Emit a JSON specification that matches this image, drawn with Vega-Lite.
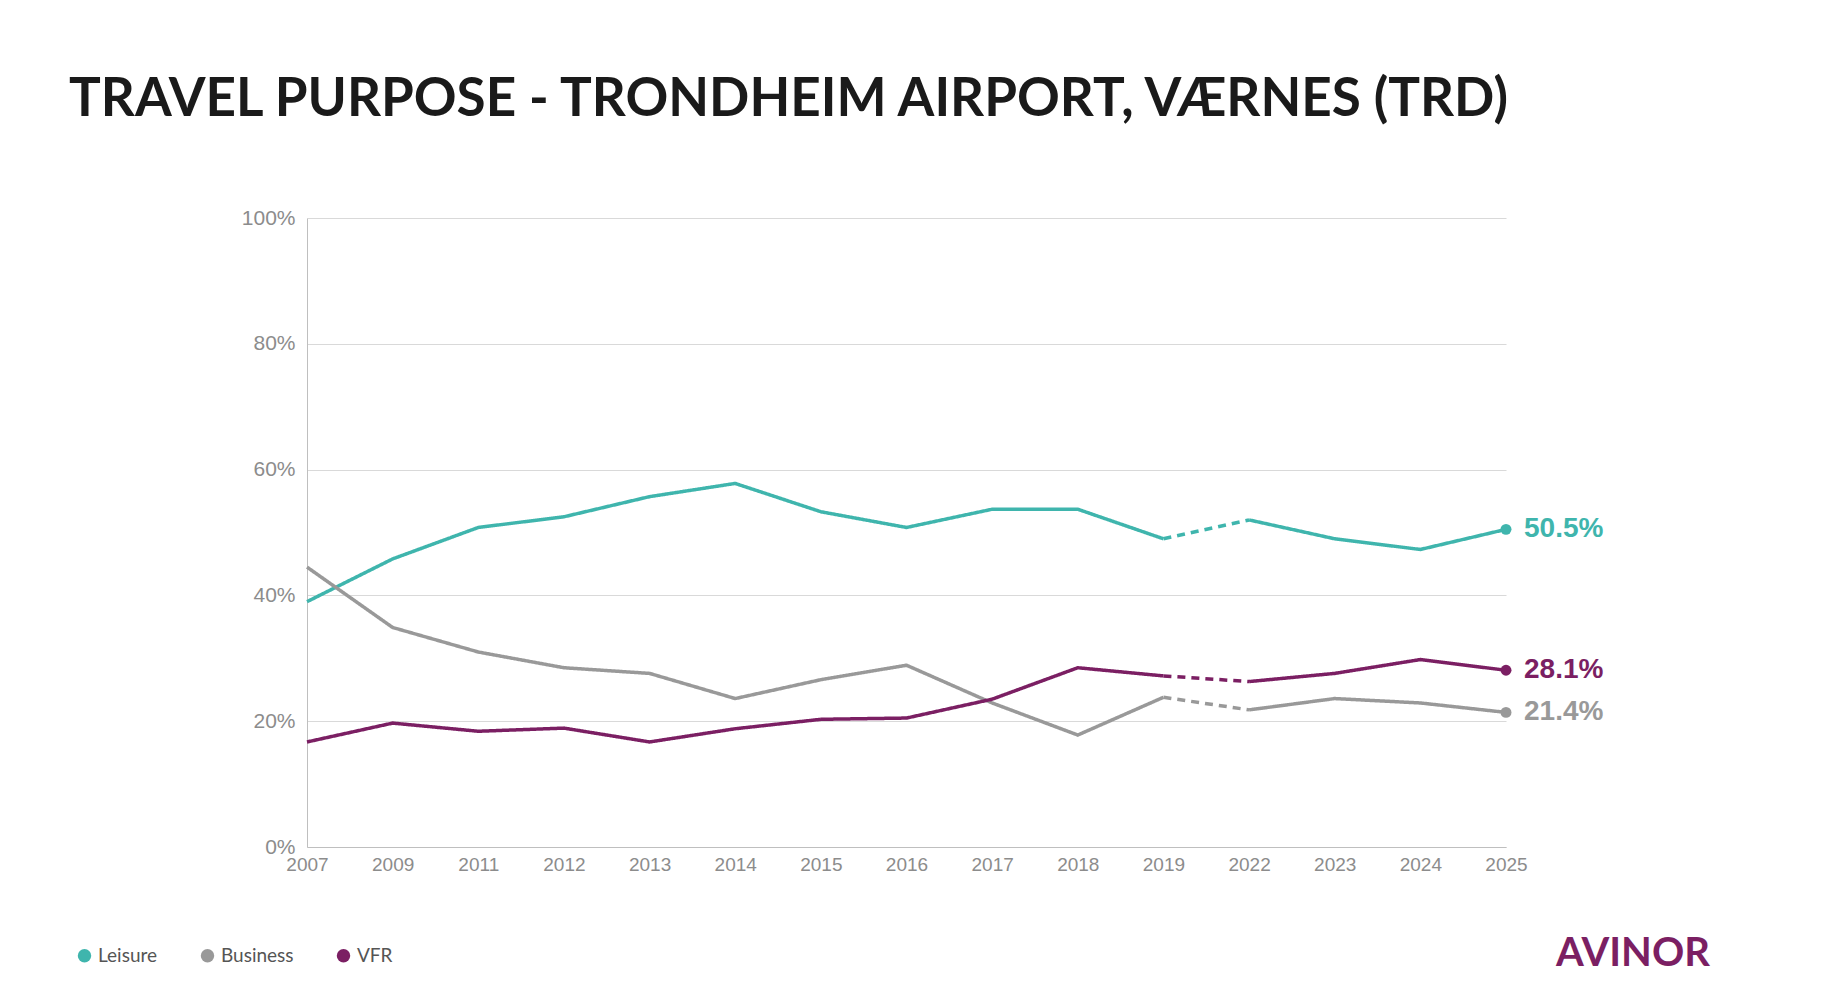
{
"$schema":"https://vega.github.io/schema/vega-lite/v6.json",
"width":1199,"height":629,
"autosize":{"type":"none"},
"padding":{"left":307,"right":334,"top":218,"bottom":161},
"background":"white",
"config":{"view":{"stroke":null},"font":"Liberation Sans"},
"title":{"text":"TRAVEL PURPOSE -  TRONDHEIM AIRPORT, VÆRNES (TRD)","anchor":"start","dx":-6,"offset":80,"font":"Lato","fontWeight":"bold","fontSize":53,"color":"#1a1a1a"},
"data":{"values":[
{"year":"2007","p":"Leisure","v":39.0,"seg":"a"},{"year":"2009","p":"Leisure","v":45.8,"seg":"a"},{"year":"2011","p":"Leisure","v":50.8,"seg":"a"},{"year":"2012","p":"Leisure","v":52.5,"seg":"a"},{"year":"2013","p":"Leisure","v":55.7,"seg":"a"},{"year":"2014","p":"Leisure","v":57.8,"seg":"a"},{"year":"2015","p":"Leisure","v":53.3,"seg":"a"},{"year":"2016","p":"Leisure","v":50.8,"seg":"a"},{"year":"2017","p":"Leisure","v":53.7,"seg":"a"},{"year":"2018","p":"Leisure","v":53.7,"seg":"a"},{"year":"2019","p":"Leisure","v":49.0,"seg":"a"},
{"year":"2019","p":"Leisure","v":49.0,"seg":"b"},{"year":"2022","p":"Leisure","v":52.0,"seg":"b"},
{"year":"2022","p":"Leisure","v":52.0,"seg":"c"},{"year":"2023","p":"Leisure","v":49.0,"seg":"c"},{"year":"2024","p":"Leisure","v":47.3,"seg":"c"},{"year":"2025","p":"Leisure","v":50.5,"seg":"c","end":"50.5%"},
{"year":"2007","p":"Business","v":44.5,"seg":"a"},{"year":"2009","p":"Business","v":34.9,"seg":"a"},{"year":"2011","p":"Business","v":31.0,"seg":"a"},{"year":"2012","p":"Business","v":28.5,"seg":"a"},{"year":"2013","p":"Business","v":27.6,"seg":"a"},{"year":"2014","p":"Business","v":23.6,"seg":"a"},{"year":"2015","p":"Business","v":26.6,"seg":"a"},{"year":"2016","p":"Business","v":28.9,"seg":"a"},{"year":"2017","p":"Business","v":22.9,"seg":"a"},{"year":"2018","p":"Business","v":17.8,"seg":"a"},{"year":"2019","p":"Business","v":23.8,"seg":"a"},
{"year":"2019","p":"Business","v":23.8,"seg":"b"},{"year":"2022","p":"Business","v":21.8,"seg":"b"},
{"year":"2022","p":"Business","v":21.8,"seg":"c"},{"year":"2023","p":"Business","v":23.6,"seg":"c"},{"year":"2024","p":"Business","v":22.9,"seg":"c"},{"year":"2025","p":"Business","v":21.4,"seg":"c","end":"21.4%"},
{"year":"2007","p":"VFR","v":16.7,"seg":"a"},{"year":"2009","p":"VFR","v":19.7,"seg":"a"},{"year":"2011","p":"VFR","v":18.4,"seg":"a"},{"year":"2012","p":"VFR","v":18.9,"seg":"a"},{"year":"2013","p":"VFR","v":16.7,"seg":"a"},{"year":"2014","p":"VFR","v":18.8,"seg":"a"},{"year":"2015","p":"VFR","v":20.3,"seg":"a"},{"year":"2016","p":"VFR","v":20.5,"seg":"a"},{"year":"2017","p":"VFR","v":23.5,"seg":"a"},{"year":"2018","p":"VFR","v":28.5,"seg":"a"},{"year":"2019","p":"VFR","v":27.2,"seg":"a"},
{"year":"2019","p":"VFR","v":27.2,"seg":"b"},{"year":"2022","p":"VFR","v":26.3,"seg":"b"},
{"year":"2022","p":"VFR","v":26.3,"seg":"c"},{"year":"2023","p":"VFR","v":27.6,"seg":"c"},{"year":"2024","p":"VFR","v":29.8,"seg":"c"},{"year":"2025","p":"VFR","v":28.1,"seg":"c","end":"28.1%"}
]},
"encoding":{
"x":{"field":"year","type":"ordinal","scale":{"type":"point","padding":0},"axis":{"title":null,"labelAngle":0,"labelColor":"#8c8c8c","labelFontSize":19,"labelPadding":8,"domainColor":"#bfbfbf","ticks":false}},
"y":{"field":"v","type":"quantitative","scale":{"domain":[0,100]},"axis":{"title":null,"values":[0,20,40,60,80,100],"labelExpr":"datum.value + '%'","labelColor":"#8c8c8c","labelFontSize":21,"labelPadding":12,"gridColor":"#d9d9d9","domain":true,"domainColor":"#bfbfbf","ticks":false}},
"color":{"field":"p","type":"nominal","scale":{"domain":["Leisure","Business","VFR"],"range":["#3fb5ad","#999999","#7b1f63"]},"legend":{"title":null,"orient":"none","direction":"horizontal","legendX":-232,"legendY":728,"symbolType":"circle","symbolSize":180,"symbolOpacity":1,"symbolStrokeWidth":0,"labelFont":"Lato","labelFontSize":19,"labelColor":"#555555","columnPadding":40}}
},
"layer":[
{"mark":{"type":"line","strokeWidth":3.5},"encoding":{"detail":{"field":"seg"},"strokeDash":{"condition":{"test":"datum.seg==='b'","value":[8,6]},"value":[1,0]}}},
{"transform":[{"filter":"datum.end"}],"mark":{"type":"point","filled":true,"size":120,"opacity":1}},
{"transform":[{"filter":"datum.end"}],"mark":{"type":"text","align":"left","dx":18,"fontSize":28,"fontWeight":"bold"},"encoding":{"text":{"field":"end"}}},
{"data":{"values":[{"year":"2025","v":-17,"t":"AVINOR"}]},"mark":{"type":"text","align":"left","dx":50,"fontSize":40,"font":"Lato","fontWeight":"bold","color":"#7b1f63"},"encoding":{"text":{"field":"t"},"color":{"value":"#7b1f63"}}}
]
}
